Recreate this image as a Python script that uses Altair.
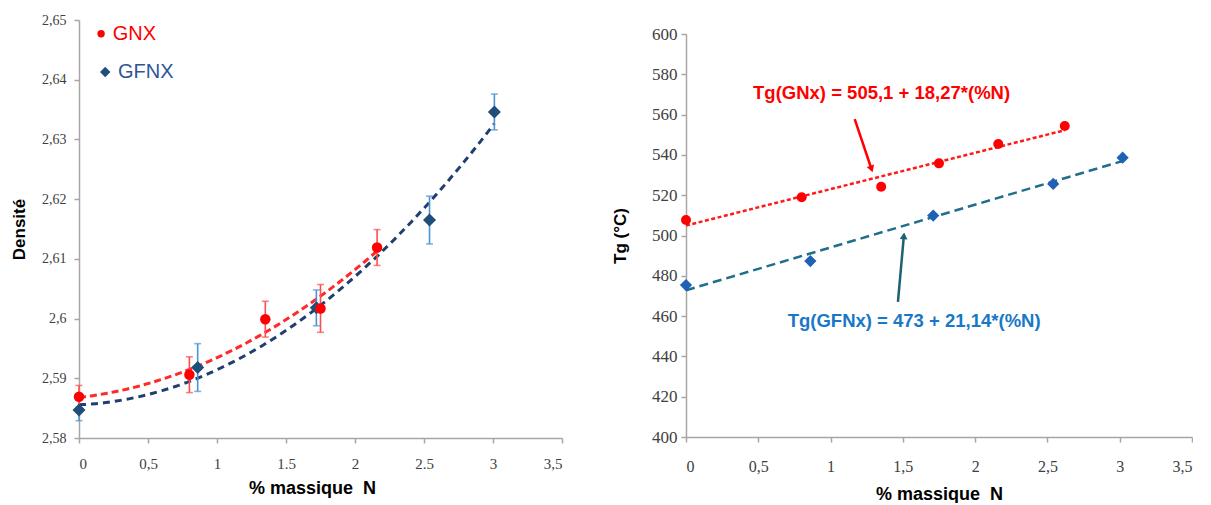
import json
import altair as alt
import pandas as pd

# ---------------- Left panel: density vs % N ----------------
gnx_n = [0.00, 0.80, 1.35, 1.75, 2.16]
gnx_dens = [2.5869, 2.5906, 2.5999, 2.6017, 2.6119]
gnx_err = [0.0019, 0.0030, 0.0030, 0.0040, 0.0030]

gfnx_n = [0.00, 0.86, 1.72, 2.54, 3.01]
gfnx_dens = [2.5847, 2.5918, 2.6018, 2.6165, 2.6346]
gfnx_err = [0.0018, 0.0040, 0.0030, 0.0040, 0.0030]

# ---------------- Right panel: Tg vs % N ----------------
gnx_n2 = [0.00, 0.80, 1.35, 1.75, 2.16, 2.62]
gnx_tg = [507.7, 519.0, 524.2, 535.8, 545.4, 554.3]

gfnx_n2 = [0.00, 0.86, 1.71, 2.54, 3.02]
gfnx_tg = [475.4, 487.3, 509.9, 525.6, 538.6]

# ---------------- Axis ticks / labels ----------------
x_ticks = [0, 0.5, 1, 1.5, 2, 2.5, 3, 3.5]
left_x_labels = ["0", "0,5", "1", "1.5", "2", "2.5", "3", "3,5"]
right_x_labels = ["0", "0,5", "1", "1,5", "2", "2,5", "3", "3,5"]
left_y_ticks = [2.58, 2.59, 2.60, 2.61, 2.62, 2.63, 2.64, 2.65]
left_y_labels = ["2,58", "2,59", "2,6", "2,61", "2,62", "2,63", "2,64", "2,65"]
right_y_ticks = [400, 420, 440, 460, 480, 500, 520, 540, 560, 580, 600]

# ---------------- Legend (left) ----------------
legend_labels = ["GNX", "GFNX"]
legend_marker_n = [0.16, 0.19]
legend_marker_d = [2.6477, 2.6413]
legend_text_n = [0.245, 0.283]

# ---------------- Annotations (right) ----------------
eq_texts = ["Tg(GNx) = 505,1 + 18,27*(%N)", "Tg(GFNx) = 473 + 21,14*(%N)"]
eq_n = [1.353, 1.578]
eq_tg = [570.7, 457.6]
arrow_n_start = [1.167, 1.466]
arrow_tg_start = [557.8, 467.1]
arrow_n_end = [1.283, 1.507]
arrow_tg_end = [533.0, 499.8]

RED = "#FF0000"
RED_ERR = "#FF4D4D"
NAVY = "#1F4E79"
NAVY_LINE = "#203F6E"
BLUE_ERR = "#4A94D4"
BLUE_PT = "#1F62B3"
TEAL = "#1F6E8A"
BLUE_TXT = "#1878C8"
AXIS_GREY = "#A6A6A6"
LABEL_COL = "#404040"
SERIF = "Liberation Serif, Times New Roman, DejaVu Serif, serif"
SANS = "Arial, Liberation Sans, sans-serif"


def label_expr(labels):
    return json.dumps(labels) + "[round(datum.value*2)]"


def y_label_expr(labels):
    return json.dumps(labels) + "[round((datum.value-2.58)*100)]"


base_axis = dict(
    grid=False,
    domainColor=AXIS_GREY,
    domainWidth=1.5,
    tickColor=AXIS_GREY,
    tickWidth=1.5,
    tickSize=5,
    labelFont=SERIF,
    labelColor=LABEL_COL,
    titleFont=SANS,
    titleFontWeight="bold",
    titleColor="#000000",
)

# ---------------- Left panel ----------------
lx = alt.X(
    "n:Q",
    scale=alt.Scale(domain=[0, 3.5], nice=False),
    axis=alt.Axis(
        values=x_ticks,
        labelExpr=label_expr(left_x_labels),
        labelFontSize=15,
        labelPadding=13,
        title="% massique\u00a0 N",
        titleFontSize=18,
        titlePadding=8,
        titleX=233,
        **base_axis,
    ),
)
ly = alt.Y(
    "v:Q",
    scale=alt.Scale(domain=[2.58, 2.65], nice=False, zero=False),
    axis=alt.Axis(
        values=left_y_ticks,
        labelExpr=y_label_expr(left_y_labels),
        labelFontSize=14,
        labelPadding=8,
        title="Densité",
        titleFontSize=17,
        titlePadding=13,
        **base_axis,
    ),
)

df_gnx = pd.DataFrame({"n": gnx_n, "v": gnx_dens, "e": gnx_err})
df_gnx["lo"] = df_gnx["v"] - df_gnx["e"]
df_gnx["hi"] = df_gnx["v"] + df_gnx["e"]
df_gfnx = pd.DataFrame({"n": gfnx_n, "v": gfnx_dens, "e": gfnx_err})
df_gfnx["lo"] = df_gfnx["v"] - df_gfnx["e"]
df_gfnx["hi"] = df_gfnx["v"] + df_gfnx["e"]


def err_layers(df, color):
    base = alt.Chart(df)
    rule = base.mark_rule(color=color, strokeWidth=1.6).encode(
        x=alt.X("n:Q"), y=alt.Y("lo:Q"), y2="hi:Q"
    )
    cap_lo = base.mark_tick(color=color, orient="horizontal", size=7, thickness=1.6).encode(
        x="n:Q", y="lo:Q"
    )
    cap_hi = base.mark_tick(color=color, orient="horizontal", size=7, thickness=1.6).encode(
        x="n:Q", y="hi:Q"
    )
    return [rule, cap_lo, cap_hi]


fit_gnx = (
    alt.Chart(df_gnx)
    .transform_regression("n", "v", method="poly", order=2)
    .mark_line(color="#FF2A2A", strokeWidth=3, strokeDash=[7, 4])
    .encode(x=lx, y=ly)
)
fit_gfnx = (
    alt.Chart(df_gfnx)
    .transform_regression("n", "v", method="poly", order=2)
    .mark_line(color=NAVY_LINE, strokeWidth=3, strokeDash=[7, 5])
    .encode(x="n:Q", y="v:Q")
)
pts_gfnx = alt.Chart(df_gfnx).mark_point(
    shape="diamond", filled=True, color=NAVY, size=170, opacity=1
).encode(x="n:Q", y="v:Q")
pts_gnx = alt.Chart(df_gnx).mark_point(
    shape="circle", filled=True, color=RED, size=110, opacity=1
).encode(x="n:Q", y="v:Q")

df_leg = pd.DataFrame(
    {
        "label": legend_labels,
        "mn": legend_marker_n,
        "mv": legend_marker_d,
        "tn": legend_text_n,
    }
)
leg_colors = alt.Scale(domain=legend_labels, range=[RED, "#2E5597"])
leg_shapes = alt.Scale(domain=legend_labels, range=["circle", "diamond"])
leg_pts = alt.Chart(df_leg).mark_point(filled=True, opacity=1).encode(
    x=alt.X("mn:Q"),
    y=alt.Y("mv:Q"),
    shape=alt.Shape("label:N", scale=leg_shapes, legend=None),
    size=alt.Size("label:N", scale=alt.Scale(domain=legend_labels, range=[55, 110]), legend=None),
    color=alt.Color("label:N", scale=alt.Scale(domain=legend_labels, range=[RED, NAVY]), legend=None),
)
leg_txt = alt.Chart(df_leg).mark_text(
    align="left", baseline="middle", font=SANS, fontSize=20
).encode(
    x=alt.X("tn:Q"),
    y=alt.Y("mv:Q"),
    text="label:N",
    color=alt.Color("label:N", scale=leg_colors, legend=None),
)

left = alt.layer(
    fit_gnx,
    fit_gfnx,
    *err_layers(df_gfnx, BLUE_ERR),
    *err_layers(df_gnx, RED_ERR),
    pts_gfnx,
    pts_gnx,
    leg_pts,
    leg_txt,
).resolve_scale(color="independent", shape="independent", size="independent").properties(
    width=483, height=418
)

# ---------------- Right panel ----------------
rx = alt.X(
    "n:Q",
    scale=alt.Scale(domain=[0, 3.5], nice=False),
    axis=alt.Axis(
        values=x_ticks,
        labelExpr=label_expr(right_x_labels),
        labelFontSize=16,
        labelPadding=16,
        title="% massique\u00a0 N",
        titleFontSize=18,
        titlePadding=11,
        **base_axis,
    ),
)
ry = alt.Y(
    "t:Q",
    scale=alt.Scale(domain=[400, 600], nice=False, zero=False),
    axis=alt.Axis(
        values=right_y_ticks,
        labelFontSize=17,
        labelPadding=4,
        title="Tg (°C)",
        titleFontSize=17,
        titlePadding=22,
        **base_axis,
    ),
)

df_gnx2 = pd.DataFrame({"n": gnx_n2, "t": gnx_tg})
df_gfnx2 = pd.DataFrame({"n": gfnx_n2, "t": gfnx_tg})

rfit_gnx = (
    alt.Chart(df_gnx2)
    .transform_regression("n", "t", method="linear")
    .mark_line(color="#FF1A1A", strokeWidth=2.5, strokeDash=[4, 2.5])
    .encode(x=rx, y=ry)
)
rfit_gfnx = (
    alt.Chart(df_gfnx2)
    .transform_regression("n", "t", method="linear")
    .mark_line(color=TEAL, strokeWidth=2.5, strokeDash=[9, 5])
    .encode(x="n:Q", y="t:Q")
)
rpts_gnx = alt.Chart(df_gnx2).mark_point(
    shape="circle", filled=True, color=RED, size=100, opacity=1
).encode(x="n:Q", y="t:Q")
rpts_gfnx = alt.Chart(df_gfnx2).mark_point(
    shape="diamond", filled=True, color=BLUE_PT, size=150, opacity=1
).encode(x="n:Q", y="t:Q")

df_eq = pd.DataFrame(
    {
        "label": eq_texts,
        "n": eq_n,
        "t": eq_tg,
        "n0": arrow_n_start,
        "t0": arrow_tg_start,
        "n1": arrow_n_end,
        "t1": arrow_tg_end,
        "ang": [161, 5],
    }
)
eq_col = alt.Scale(domain=eq_texts, range=[RED, BLUE_TXT])
arr_col = alt.Scale(domain=eq_texts, range=[RED, "#1D6272"])
eq_txt = alt.Chart(df_eq).mark_text(
    align="center", baseline="middle", font=SANS, fontSize=18.5, fontWeight="bold"
).encode(
    x="n:Q", y="t:Q", text="label:N", color=alt.Color("label:N", scale=eq_col, legend=None)
)
arr_shaft = alt.Chart(df_eq).mark_rule(strokeWidth=2.5).encode(
    x="n0:Q", y="t0:Q", x2="n1:Q", y2="t1:Q",
    color=alt.Color("label:N", scale=arr_col, legend=None),
)
arr_head = alt.Chart(df_eq).mark_point(
    shape="triangle-up", filled=True, size=60, opacity=1
).encode(
    x="n1:Q", y="t1:Q", angle=alt.Angle("ang:Q", scale=None),
    color=alt.Color("label:N", scale=arr_col, legend=None),
)

right = alt.layer(
    rfit_gnx, rfit_gfnx, rpts_gfnx, rpts_gnx, eq_txt, arr_shaft, arr_head
).resolve_scale(color="independent").properties(width=506, height=403)

spacer = (
    alt.Chart(pd.DataFrame({"a": [0]}))
    .mark_point(opacity=0)
    .encode(x=alt.X("a:Q", axis=None), y=alt.Y("a:Q", axis=None))
    .properties(width=506, height=1)
)

right_col = alt.vconcat(spacer, right, spacing=1)

chart = (
    alt.hconcat(left, right_col, spacing=48)
    .properties(padding={"left": 2, "top": 5, "right": 0, "bottom": 0})
    .configure_view(stroke=None)
)

chart.save("out.html", embed_options={"renderer": "svg", "actions": False})
